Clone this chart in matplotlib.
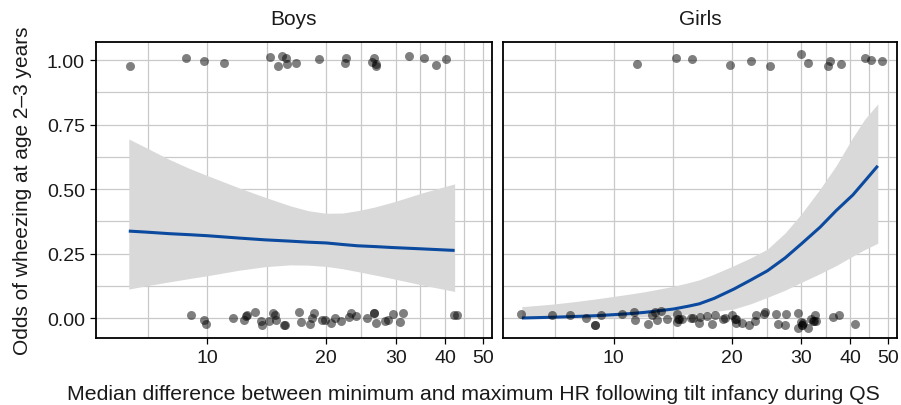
## wheezing odds vs HR difference, boys / girls panels
import numpy as np
import matplotlib
matplotlib.use("Agg")
import matplotlib.pyplot as plt

plt.rcParams['font.family'] = ['Liberation Sans', 'DejaVu Sans']

## observed points (jittered 0/1 outcomes)
boys_x1 = [6.36, 8.81, 9.83, 11.02, 14.44, 15.46, 15.79, 15.1, 15.88, 16.73,
           19.13, 22.39, 22.32, 26.48, 26.12, 26.68, 26.7, 32.46, 35.37, 37.93, 40.21]
boys_y1 = [0.976, 1.008, 0.995, 0.987, 1.012, 1.016, 1.007, 0.978, 0.983, 0.988,
           1.004, 1.007, 0.988, 1.007, 0.993, 0.984, 0.978, 1.016, 1.008, 0.979, 1.004]
boys_x0 = [9.06, 9.79, 9.94, 11.59, 12.41, 12.55, 12.6, 13.17, 13.64, 13.72, 14.33,
           14.69, 14.84, 14.89, 15.66, 15.7, 17.07, 17.3, 18.23, 18.37, 18.63, 19.47,
           19.86, 20.52, 21.05, 21.8, 22.85, 23.16, 23.8, 25.42, 26.37, 26.45, 26.74,
           28.22, 28.6, 29.45, 30.8, 31.22, 42.03, 42.88]
boys_y0 = [0.013, -0.007, -0.024, 0.0, -0.007, 0.008, 0.010, 0.022, -0.010, -0.028, -0.010,
           0.019, 0.013, -0.007, -0.028, -0.028, 0.024, -0.016, -0.023, -0.001, 0.018, -0.007,
           -0.007, -0.018, 0.0, -0.010, 0.005, 0.018, 0.008, -0.001, 0.021, 0.019, -0.018,
           -0.013, -0.007, 0.016, -0.016, 0.021, 0.012, 0.012]

girls_x1 = [11.43, 14.37, 15.81, 19.77, 22.4, 25.0, 29.94, 31.2, 35.0, 35.56,
            37.94, 43.6, 45.25, 48.19]
girls_y1 = [0.983, 1.009, 1.005, 0.981, 0.995, 0.977, 1.022, 0.990, 0.977, 0.995,
            0.984, 1.009, 1.0, 0.996]
girls_x0 = [5.80, 6.95, 7.74, 8.47, 8.93, 8.95, 9.28, 10.50, 11.27, 11.29, 12.23, 12.52,
            12.70, 12.85, 13.18, 13.68, 14.45, 14.50, 14.65, 14.60, 14.88, 15.69, 15.90,
            16.47, 16.60, 17.30, 17.75, 18.10, 19.00, 19.19, 20.04, 20.36, 20.51, 20.45,
            21.25, 22.10, 22.85, 23.07, 24.17, 24.32, 25.94, 26.16, 27.31, 27.42, 29.48,
            29.36, 29.94, 30.17, 30.10, 30.40, 31.25, 31.75, 32.05, 32.51, 32.70, 32.4,
            36.06, 37.50, 41.11]
girls_y0 = [0.016, 0.012, 0.012, 0.0, -0.027, -0.027, 0.012, 0.016, 0.024, -0.007, -0.022, 0.010,
            0.024, -0.007, 0.026, -0.003, 0.016, -0.016, -0.005, -0.005, -0.005, 0.0, 0.0,
            -0.018, 0.003, 0.009, -0.023, 0.012, -0.005, 0.0, 0.012, -0.005, -0.018, -0.005,
            -0.021, -0.026, -0.010, 0.012, 0.016, 0.024, 0.016, -0.023, -0.026, 0.016, 0.019,
            -0.040, -0.016, -0.026, -0.026, -0.021, -0.040, -0.004, -0.010, 0.012, -0.013, -0.010,
            0.003, 0.012, -0.023]

## fitted logistic curves with 95% band
boys_fx = [6.32, 7.0, 8.0, 9.0, 10.0, 12.0, 14.0, 16.2, 18.0, 20.0, 22.0, 24.0, 26.5, 29.6, 35.0, 42.3]
boys_fit = [0.337, 0.333, 0.327, 0.323, 0.319, 0.310, 0.303, 0.298, 0.294, 0.291, 0.285,
            0.280, 0.277, 0.273, 0.268, 0.262]
boys_hi = [0.694, 0.660, 0.615, 0.580, 0.552, 0.505, 0.468, 0.435, 0.416, 0.406, 0.407,
           0.416, 0.430, 0.450, 0.485, 0.520]
boys_lo = [0.112, 0.125, 0.140, 0.153, 0.164, 0.185, 0.199, 0.206, 0.205, 0.200, 0.191,
           0.180, 0.167, 0.152, 0.128, 0.103]

girls_fx = [5.83, 7.0, 8.0, 9.0, 10.0, 11.0, 12.0, 13.0, 14.2, 15.5, 16.5, 18.0, 20.2,
            22.3, 24.6, 27.3, 30.0, 33.5, 36.8, 40.6, 43.5, 47.0]
girls_fit = [0.0, 0.003, 0.006, 0.009, 0.013, 0.017, 0.022, 0.028, 0.035, 0.046, 0.055, 0.076,
             0.112, 0.147, 0.183, 0.233, 0.287, 0.352, 0.416, 0.477, 0.530, 0.590]
girls_hi = [0.044, 0.054, 0.064, 0.074, 0.084, 0.093, 0.102, 0.112, 0.123, 0.137, 0.148, 0.170,
            0.203, 0.233, 0.267, 0.330, 0.403, 0.500, 0.590, 0.700, 0.770, 0.830]
girls_lo = [0.0, 0.0, 0.0, 0.001, 0.002, 0.003, 0.005, 0.007, 0.010, 0.015, 0.018, 0.025,
            0.035, 0.055, 0.080, 0.108, 0.138, 0.172, 0.203, 0.240, 0.265, 0.290]

xticks = [10, 20, 30, 40, 50]
xminor = [np.sqrt(5 * 10), np.sqrt(10 * 20), np.sqrt(20 * 30), np.sqrt(30 * 40), np.sqrt(40 * 50)]
yticks = [0.0, 0.25, 0.5, 0.75, 1.0]
yminor = [0.125, 0.375, 0.625, 0.875]

fig = plt.figure(figsize=(9.01, 4.06), dpi=100)
ax1 = fig.add_axes([96 / 901, 67 / 406, 396 / 901, 296 / 406])
ax2 = fig.add_axes([503 / 901, 67 / 406, 394 / 901, 296 / 406])

panels = [
    (ax1, "Boys", boys_x0, boys_y0, boys_x1, boys_y1, boys_fx, boys_fit, boys_lo, boys_hi),
    (ax2, "Girls", girls_x0, girls_y0, girls_x1, girls_y1, girls_fx, girls_fit, girls_lo, girls_hi),
]

for ax, title, x0, y0, x1, y1, fx, fit, lo, hi in panels:
    ax.set_xscale("log")
    ax.set_xlim(5.22, 52.6)
    ax.set_ylim(-0.0775, 1.07)
    ## grid by hand so minor lines land at ggplot positions
    for v in xticks + xminor:
        ax.axvline(v, color="#c9c9c9", lw=0.9, zorder=0)
    for v in yticks + yminor:
        ax.axhline(v, color="#c9c9c9", lw=0.9, zorder=0)
    ax.fill_between(fx, lo, hi, color="#d9d9d9", lw=0, zorder=1)
    ax.plot(fx, fit, color="#0b4a9e", lw=2.2, zorder=2, solid_capstyle="butt")
    ax.scatter(x0 + x1, y0 + y1, s=42, color="black", alpha=0.5, lw=0, zorder=3)
    ax.set_xticks(xticks)
    ax.set_xticklabels([str(t) for t in xticks])
    ax.xaxis.set_minor_locator(matplotlib.ticker.NullLocator())
    ax.set_yticks(yticks)
    ax.tick_params(length=4.5, width=0.9, labelsize=14, colors="black", labelcolor="#1a1a1a", pad=3.5)
    for s in ax.spines.values():
        s.set_linewidth(1.3)
    ax.set_title(title, fontsize=15, pad=13, color="#1a1a1a")

ax1.set_yticklabels(["0.00", "0.25", "0.50", "0.75", "1.00"])
ax2.tick_params(axis="y", left=False, labelleft=False)

ax1.set_ylabel("Odds of wheezing at age 2\u20133 years", fontsize=15, color="#1a1a1a", labelpad=11)
fig.text(0.5255, 0.028, "Median difference between minimum and maximum HR following tilt infancy during QS",
         ha="center", va="center", fontsize=15.3, color="#1a1a1a")

fig.savefig("out.png", dpi=100)
